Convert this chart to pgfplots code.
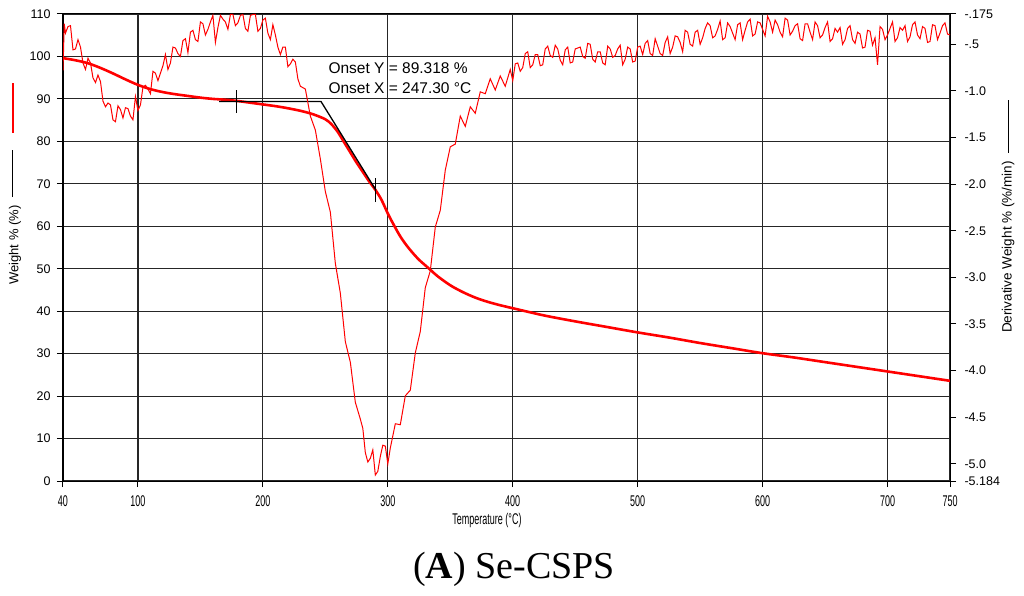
\documentclass[border=0pt]{standalone}
\usepackage{fontspec}
\setmainfont{Liberation Sans}
\newfontfamily\capfont{Liberation Serif}
\usepackage{graphicx}
\usepackage{pgfplots}
\pgfplotsset{compat=1.18}
\newcommand\xl[1]{\scalebox{0.58}[1]{#1}}

\begin{document}
\begin{tikzpicture}[x=1pt,y=1pt]
\path[use as bounding box] (-63,-114) rectangle (961,481);
\begin{axis}[at={(0,0)}, anchor=south west, scale only axis, width=887pt, height=467pt,
 xmin=40, xmax=750, ymin=0, ymax=110,
 xtick={40,100,200,300,400,500,600,700,750},
 xticklabels={\xl{40},\xl{100},\xl{200},\xl{300},\xl{400},\xl{500},\xl{600},\xl{700},\xl{750}},
 ytick={0,10,...,110},
 ytick pos=left, xtick pos=bottom,
 tick align=outside, major tick length=6pt,
 grid=major, major grid style={black!85, line width=1.1pt},
 axis line style={black, line width=1pt}, tick style={black, line width=1pt},
 xticklabel style={font=\fontsize{15.5}{16}\selectfont, yshift=-5pt},
 yticklabel style={font=\fontsize{12.5}{14}\selectfont, xshift=-3pt},
 /pgf/number format/assume math mode=true]
\addplot[red, line width=2.6pt, smooth] coordinates {
(40,99.6) (50,99.1) (60,98.4) (70,97.3) (80,96.0) (90,94.6) (100,93.3) (110,92.3)
(120,91.6) (130,91.1) (140,90.7) (150,90.3) (160,90.0) (170,89.8) (180,89.5) (190,89.1)
(200,88.7) (210,88.3) (220,87.8) (230,87.2) (240,86.4) (250,85.2) (255,84.0) (260,82.2)
(265,79.8) (270,77.4) (275,75.0) (280,72.8) (285,70.6) (290,68.6) (295,66.2) (300,63.0)
(305,60.2) (310,57.6) (315,55.5) (320,53.7) (325,52.1) (330,50.8) (335,49.5) (340,48.2)
(350,46.1) (360,44.5) (370,43.2) (380,42.2) (390,41.4) (400,40.7) (425,39.0) (450,37.6)
(475,36.3) (500,35.0) (525,33.8) (550,32.5) (575,31.3) (600,30.1) (625,29.1) (650,28.0)
(675,26.9) (700,25.8) (725,24.7) (750,23.6)};
\addplot[black, line width=1.3pt] coordinates {(165,89.4) (246.5,89.4) (290.3,68.6)};
\addplot[black, line width=1pt] coordinates {(178.5,86.7) (178.5,92.1)};
\addplot[black, line width=1pt] coordinates {(290.3,65.7) (290.3,71.4)};
\end{axis}
\begin{axis}[at={(0,0)}, anchor=south west, scale only axis, width=887pt, height=467pt,
 xmin=40, xmax=750, ymin=-5.184, ymax=-0.175,
 xtick=\empty,
 ytick={-5.184,-5,-4.5,-4,-3.5,-3,-2.5,-2,-1.5,-1,-0.5,-0.175},
 yticklabels={-5.184,-5.0,-4.5,-4.0,-3.5,-3.0,-2.5,-2.0,-1.5,-1.0,-.5,-.175},
 ytick pos=right,
 tick align=outside, major tick length=6pt,
 axis line style={black, line width=1pt}, tick style={black, line width=1pt},
 yticklabel style={font=\fontsize{12.5}{14}\selectfont, xshift=5pt}]
\addplot[red, line width=1pt] coordinates {
(40,-0.78) (41,-0.28) (42,-0.38) (44,-0.31) (46,-0.30) (48,-0.56) (50,-0.55) (52,-0.45)
(54,-0.53) (56,-0.70) (58,-0.77) (60,-0.65) (62,-0.70) (64,-0.86) (66,-0.91) (68,-0.83)
(70,-0.90) (72,-1.11) (74,-1.17) (76,-1.13) (78,-1.15) (80,-1.31) (82,-1.33) (84,-1.16)
(86,-1.20) (88,-1.29) (90,-1.18) (92,-1.19) (94,-1.27) (96,-1.31) (98,-1.06) (100,-1.21)
(102,-1.15) (104,-0.96) (106,-0.94) (108,-0.98) (110,-1.03) (112,-0.79) (114,-0.81) (116,-0.89)
(118,-0.81) (120,-0.73) (122,-0.61) (124,-0.77) (126,-0.70) (128,-0.53) (130,-0.54) (132,-0.60)
(134,-0.63) (136,-0.46) (138,-0.44) (140,-0.59) (142,-0.37) (144,-0.35) (146,-0.45) (148,-0.47)
(150,-0.26) (152,-0.28) (154,-0.40) (156,-0.34) (158,-0.26) (160,-0.19) (162,-0.48) (164,-0.32)
(166,-0.19) (168,-0.23) (170,-0.26) (172,-0.34) (174,-0.18) (176,-0.18) (178,-0.30) (180,-0.27)
(182,-0.19) (184,-0.18) (186,-0.33) (188,-0.36) (190,-0.19) (192,-0.18) (194,-0.18) (196,-0.36)
(198,-0.33) (200,-0.24) (202,-0.22) (204,-0.38) (206,-0.45) (208,-0.29) (210,-0.40) (212,-0.53)
(214,-0.61) (216,-0.53) (218,-0.53) (220,-0.74) (222,-0.71) (224,-0.66) (226,-0.69) (228,-0.87)
(230,-0.95) (234,-0.98) (238,-1.27) (242,-1.42) (246,-1.73) (250,-2.08) (254,-2.30)
(258,-2.85) (262,-3.17) (266,-3.69) (270,-3.91) (274,-4.34) (278,-4.52) (280,-4.62) (282,-4.88)
(284,-4.98) (286,-4.94) (288,-4.85) (290,-5.12) (292,-5.08) (294,-4.92) (296,-4.80) (298,-4.81)
(300,-5.00) (302,-4.83) (306,-4.57) (310,-4.58) (314,-4.27) (318,-4.21) (322,-3.81) (326,-3.58)
(330,-3.11) (334,-2.93) (338,-2.46) (342,-2.28) (346,-1.85) (350,-1.60) (354,-1.57) (358,-1.27)
(362,-1.38) (366,-1.17) (370,-1.24) (374,-1.01) (378,-1.03) (382,-0.87) (386,-0.99) (390,-0.84)
(394,-0.95) (398,-0.77) (400,-0.89) (402,-0.71) (404,-0.70) (406,-0.79) (408,-0.75) (410,-0.60)
(412,-0.58) (414,-0.75) (416,-0.72) (418,-0.61) (420,-0.61) (422,-0.73) (424,-0.72) (426,-0.55)
(428,-0.52) (430,-0.62) (432,-0.64) (434,-0.51) (436,-0.55) (438,-0.67) (440,-0.72) (442,-0.56)
(444,-0.53) (446,-0.70) (448,-0.69) (450,-0.55) (452,-0.54) (454,-0.53) (456,-0.63) (458,-0.65)
(460,-0.49) (462,-0.50) (464,-0.66) (466,-0.69) (468,-0.58) (470,-0.58) (472,-0.70) (474,-0.72)
(476,-0.52) (478,-0.55) (480,-0.64) (482,-0.62) (484,-0.55) (486,-0.51) (488,-0.72) (490,-0.66)
(492,-0.53) (494,-0.55) (496,-0.69) (498,-0.68) (500,-0.53) (502,-0.52) (504,-0.61) (506,-0.49)
(508,-0.46) (510,-0.60) (512,-0.62) (514,-0.44) (516,-0.52) (518,-0.60) (520,-0.62) (522,-0.48)
(524,-0.42) (526,-0.60) (528,-0.53) (530,-0.41) (532,-0.42) (534,-0.48) (536,-0.58) (538,-0.35)
(540,-0.37) (542,-0.50) (544,-0.52) (546,-0.37) (548,-0.35) (550,-0.50) (552,-0.43) (554,-0.33)
(556,-0.27) (558,-0.30) (560,-0.43) (562,-0.41) (564,-0.34) (566,-0.25) (568,-0.45) (570,-0.43)
(572,-0.27) (574,-0.31) (576,-0.38) (578,-0.45) (580,-0.29) (582,-0.27) (584,-0.45) (586,-0.35)
(588,-0.26) (590,-0.23) (592,-0.41) (594,-0.39) (596,-0.26) (598,-0.27) (600,-0.34) (602,-0.41)
(604,-0.20) (606,-0.26) (608,-0.37) (610,-0.24) (612,-0.29) (614,-0.37) (616,-0.42) (618,-0.22)
(620,-0.24) (622,-0.40) (624,-0.36) (626,-0.30) (628,-0.28) (630,-0.44) (632,-0.46) (634,-0.28)
(636,-0.28) (638,-0.37) (640,-0.45) (642,-0.26) (644,-0.30) (646,-0.43) (648,-0.40) (650,-0.32)
(652,-0.26) (654,-0.47) (656,-0.44) (658,-0.33) (660,-0.37) (662,-0.32) (664,-0.50) (666,-0.45)
(668,-0.33) (670,-0.30) (672,-0.45) (674,-0.49) (676,-0.37) (678,-0.39) (680,-0.54) (682,-0.53)
(684,-0.35) (686,-0.36) (688,-0.51) (690,-0.43) (692,-0.72) (694,-0.31) (696,-0.34) (698,-0.45)
(700,-0.40) (702,-0.33) (704,-0.26) (706,-0.47) (708,-0.43) (710,-0.32) (712,-0.35) (714,-0.30)
(716,-0.47) (718,-0.42) (720,-0.29) (722,-0.26) (724,-0.40) (726,-0.44) (728,-0.31) (730,-0.33)
(732,-0.48) (734,-0.47) (736,-0.29) (738,-0.30) (740,-0.45) (742,-0.38) (744,-0.30) (746,-0.27)
(748,-0.39) (750,-0.40)};
\end{axis}
\node[rotate=90, font=\fontsize{13}{14}\selectfont] at (-48,236) {Weight \% (\%)};
\draw[red, line width=2.5pt] (-50,348) -- (-50,398);
\draw[black, line width=1pt] (-50,284) -- (-50,331);
\node[rotate=90, font=\fontsize{13.5}{14}\selectfont] at (945,234) {Derivative Weight \% (\%/min)};
\draw[black, line width=1pt] (945,328) -- (945,381);
\node[font=\fontsize{15.5}{16}\selectfont] at (424,-39) {\xl{Temperature (°C)}};
\node[anchor=west, font=\fontsize{15.5}{17}\selectfont] at (262,413) {Onset Y = 89.318 \%};
\node[anchor=west, font=\fontsize{15.5}{17}\selectfont] at (262,393) {Onset X = 247.30 °C};
\node[anchor=base, font=\capfont\fontsize{38}{40}\selectfont] at (451,-97) {(\textbf{A}) Se-CSPS};
\end{tikzpicture}
\end{document}
